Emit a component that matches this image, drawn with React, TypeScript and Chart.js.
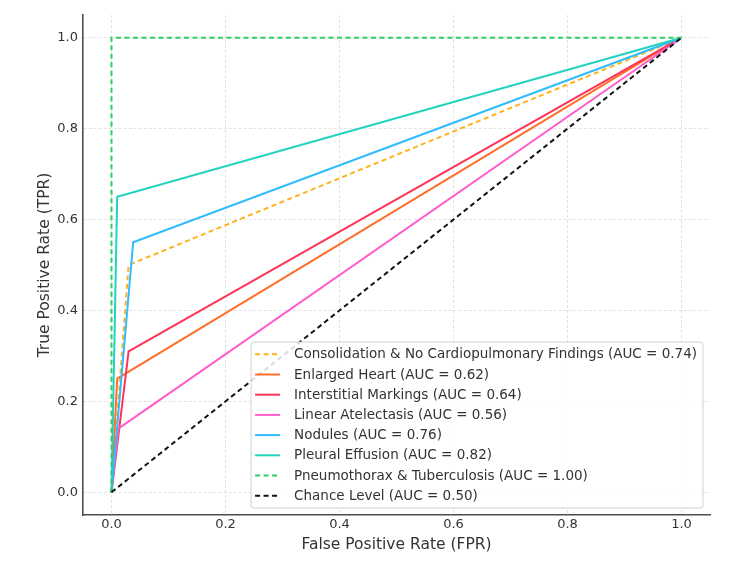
import { useEffect, useRef } from "react";
import { Chart, registerables } from "chart.js";

Chart.register(...registerables);

// ---- data ----
const seriesLabels = [
  "Consolidation & No Cardiopulmonary Findings (AUC = 0.74)",
  "Enlarged Heart (AUC = 0.62)",
  "Interstitial Markings (AUC = 0.64)",
  "Linear Atelectasis (AUC = 0.56)",
  "Nodules (AUC = 0.76)",
  "Pleural Effusion (AUC = 0.82)",
  "Pneumothorax & Tuberculosis (AUC = 1.00)",
  "Chance Level (AUC = 0.50)",
];
const fprConsolidation = [0, 0.03, 1];
const tprConsolidation = [0, 0.5, 1];
const fprEnlargedHeart = [0, 0.01, 1];
const tprEnlargedHeart = [0, 0.25, 1];
const fprInterstitial = [0, 0.03, 1];
const tprInterstitial = [0, 0.31, 1];
const fprAtelectasis = [0, 0.012, 1];
const tprAtelectasis = [0, 0.14, 1];
const fprNodules = [0, 0.038, 1];
const tprNodules = [0, 0.55, 1];
const fprPleural = [0, 0.01, 1];
const tprPleural = [0, 0.65, 1];
const fprPneumothorax = [0, 0, 1];
const tprPneumothorax = [0, 1, 1];
const fprChance = [0, 1];
const tprChance = [0, 1];

const seriesFpr = [fprConsolidation, fprEnlargedHeart, fprInterstitial, fprAtelectasis, fprNodules, fprPleural, fprPneumothorax, fprChance];
const seriesTpr = [tprConsolidation, tprEnlargedHeart, tprInterstitial, tprAtelectasis, tprNodules, tprPleural, tprPneumothorax, tprChance];
const seriesColors = ["#ffb21f", "#ff6f2a", "#ff3358", "#ff5ccb", "#2fbcff", "#22d3bf", "#2fcc63", "#111111"];
const seriesDashed = [true, false, false, false, false, false, true, true];

const tickValues = [0, 0.2, 0.4, 0.6, 0.8, 1.0];
const axisMin = -0.05;
const axisMax = 1.05;

const FONT = '"DejaVu Sans", "Liberation Sans", sans-serif';

const legendPlugin = {
  id: "boxLegend",
  afterDatasetsDraw(chart: any) {
    const ctx = chart.ctx as CanvasRenderingContext2D;
    const area = chart.chartArea;
    const items = chart.data.datasets as any[];
    ctx.save();
    ctx.font = `13.5px ${FONT}`;
    const maxW = Math.max(...items.map((d) => ctx.measureText(d.label).width));
    const rowH = 20.2;
    const w = 43 + maxW + 6;
    const h = (items.length - 1) * rowH + 24.6;
    const right = area.right - 7;
    const bottom = area.bottom - 7;
    const left = right - w;
    const top = bottom - h;
    ctx.beginPath();
    (ctx as any).roundRect(left, top, w, h, 3);
    ctx.fillStyle = "rgba(255,255,255,0.85)";
    ctx.fill();
    ctx.strokeStyle = "#d0d0d0";
    ctx.lineWidth = 1;
    ctx.stroke();
    items.forEach((d, i) => {
      const y = top + 12.3 + rowH * i;
      ctx.beginPath();
      ctx.setLineDash(d.borderDash || []);
      ctx.strokeStyle = d.borderColor;
      ctx.lineWidth = 2;
      ctx.moveTo(left + 4, y);
      ctx.lineTo(left + 29, y);
      ctx.stroke();
      ctx.setLineDash([]);
      ctx.fillStyle = "#333333";
      ctx.textBaseline = "middle";
      ctx.textAlign = "left";
      ctx.fillText(d.label, left + 43, y + 0.5);
    });
    ctx.restore();
  },
};

export default function App() {
  const ref = useRef<HTMLCanvasElement | null>(null);

  useEffect(() => {
    if (!ref.current) return;
    Chart.defaults.font.family = FONT;
    const n = seriesLabels.length;
    const datasets = seriesLabels.map((label, i) => ({
      label,
      data: seriesFpr[i].map((x, j) => ({ x, y: seriesTpr[i][j] })),
      borderColor: seriesColors[i],
      backgroundColor: seriesColors[i],
      borderWidth: 2,
      borderDash: seriesDashed[i] ? [5, 3.5] : [],
      showLine: true,
      pointRadius: 0,
      fill: false,
      tension: 0,
      order: n - i,
    }));

    const setTicks = (scale: any) => {
      scale.ticks = tickValues.map((v) => ({ value: v }));
    };

    const chart = new Chart(ref.current, {
      type: "scatter",
      data: { datasets },
      plugins: [legendPlugin],
      options: {
        animation: false,
        responsive: false,
        layout: { padding: { top: 15, right: 40, left: 0, bottom: 0 } },
        plugins: {
          legend: { display: false },
          tooltip: { enabled: false },
        },
        scales: {
          x: {
            type: "linear",
            min: axisMin,
            max: axisMax,
            afterBuildTicks: setTicks,
            afterFit: (scale: any) => {
              scale.height = 48;
            },
            border: { display: true, color: "#4d4d4d", width: 1.6, dash: [3, 2] },
            grid: {
              color: "rgba(0,0,0,0.11)",
              drawTicks: false,
            },
            ticks: {
              padding: 2,
              color: "#333333",
              font: { size: 13 },
              callback: (v: any) => Number(v).toFixed(1),
            },
            title: {
              display: true,
              text: "False Positive Rate (FPR)",
              color: "#333333",
              font: { size: 15.5 },
              padding: { top: 0, bottom: 9 },
            },
          },
          y: {
            type: "linear",
            min: axisMin,
            max: axisMax,
            afterBuildTicks: setTicks,
            afterFit: (scale: any) => {
              scale.width = 83;
            },
            border: { display: true, color: "#4d4d4d", width: 1.6, dash: [3, 2] },
            grid: {
              color: "rgba(0,0,0,0.11)",
              drawTicks: false,
            },
            ticks: {
              padding: 5,
              color: "#333333",
              font: { size: 13 },
              callback: (v: any) => Number(v).toFixed(1),
            },
            title: {
              display: true,
              text: "True Positive Rate (TPR)",
              color: "#333333",
              font: { size: 15.5 },
              padding: { top: 36, bottom: 0 },
            },
          },
        },
      } as any,
    });
    return () => chart.destroy();
  }, []);

  return (
    <div style={{ position: "fixed", left: 0, top: 0, width: 750, height: 563, background: "#ffffff" }}>
      <canvas ref={ref} width={750} height={563} style={{ display: "block", width: 750, height: 563 }} />
    </div>
  );
}
